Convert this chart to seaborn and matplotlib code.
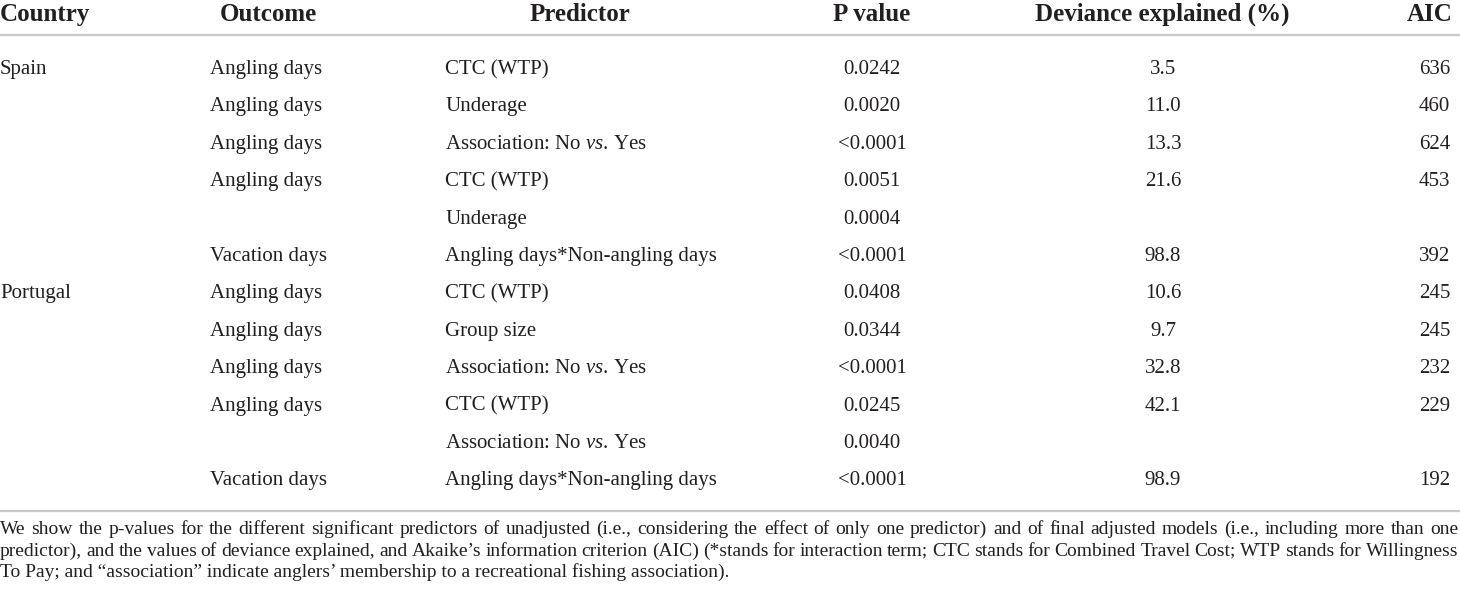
import numpy as np
import pandas as pd
import matplotlib
matplotlib.use("Agg")
import matplotlib.pyplot as plt
import seaborn as sns

# table data
countries = ["Spain", "", "", "", "", "", "Portugal", "", "", "", "", ""]
outcomes = ["Angling days", "Angling days", "Angling days", "Angling days", "", "Vacation days",
            "Angling days", "Angling days", "Angling days", "Angling days", "", "Vacation days"]
predictors = ["CTC (WTP)", "Underage", "Association: No $\\mathit{vs}$. Yes", "CTC (WTP)", "Underage",
              "Angling days*Non-angling days", "CTC (WTP)", "Group size",
              "Association: No $\\mathit{vs}$. Yes", "CTC (WTP)",
              "Association: No $\\mathit{vs}$. Yes", "Angling days*Non-angling days"]
p_values = ["0.0242", "0.0020", "<0.0001", "0.0051", "0.0004", "<0.0001",
            "0.0408", "0.0344", "<0.0001", "0.0245", "0.0040", "<0.0001"]
deviance = ["3.5", "11.0", "13.3", "21.6", "", "98.8", "10.6", "9.7", "32.8", "42.1", "", "98.9"]
aic = ["636", "460", "624", "453", "", "392", "245", "245", "232", "229", "", "192"]

headers = ["Country", "Outcome", "Predictor", "P value", "Deviance explained (%)", "AIC"]

footnote = [
    "We show the p-values for the different significant predictors of unadjusted (i.e., considering the effect of only one predictor) and of final adjusted models (i.e., including more than one",
    "predictor), and the values of deviance explained, and Akaike\u2019s information criterion (AIC) (*stands for interaction term; CTC stands for Combined Travel Cost; WTP stands for Willingness",
    "To Pay; and \u201cassociation\u201d indicate anglers\u2019 membership to a recreational fishing association).",
]

df = pd.DataFrame({"Country": countries, "Outcome": outcomes, "Predictor": predictors,
                   "P value": p_values, "Deviance explained (%)": deviance, "AIC": aic})

sns.set_theme(style="white")
plt.rcParams["font.family"] = ["Liberation Serif", "DejaVu Serif"]
plt.rcParams["mathtext.fontset"] = "custom"
plt.rcParams["mathtext.rm"] = "Liberation Serif"
plt.rcParams["mathtext.it"] = "Liberation Serif:italic"

ink = "#231f20"
rule = "#c8c8c8"

# column layout: header x/align, value x/align (pixels)
layout = {
    "Country": (0, "left", 0, "left"),
    "Outcome": (268, "center", 210, "left"),
    "Predictor": (580, "center", 445, "left"),
    "P value": (872, "center", 872, "center"),
    "Deviance explained (%)": (1162, "center", 1163, "center"),
    "AIC": (1453, "right", 1450, "right"),
}

fig = plt.figure(figsize=(14.6, 5.97), dpi=100)
ax = fig.add_axes([0, 0, 1, 1])
ax.set_xlim(0, 1460)
ax.set_ylim(597, 0)
ax.axis("off")

header_base = 21
row_base = 74
row_step = 37.4

for col in headers:
    hx, hha, vx, vha = layout[col]
    ax.text(hx, header_base, col, ha=hha, va="baseline", fontsize=18,
            fontweight="bold", color=ink)
    for i, val in enumerate(df[col]):
        if val:
            ax.text(vx, row_base + i * row_step, val, ha=vha,
                    va="baseline", fontsize=15, color=ink)

ax.plot([0, 1460], [35, 35], color=rule, lw=1.6, solid_capstyle="butt")
ax.plot([0, 1460], [511, 511], color=rule, lw=1.6, solid_capstyle="butt")

# footnote, first two lines justified
renderer = fig.canvas.get_renderer()
foot_base = [534, 555.5, 577]
foot_size = 14.0
for k, line in enumerate(footnote):
    if k == len(footnote) - 1:
        ax.text(0, foot_base[k], line, ha="left", va="baseline", fontsize=foot_size, color=ink)
        continue
    words = line.split(" ")
    arts = [ax.text(0, foot_base[k], w, ha="left", va="baseline", fontsize=foot_size, color=ink)
            for w in words]
    widths = [a.get_window_extent(renderer).width for a in arts]
    gap = max((1458 - sum(widths)) / (len(words) - 1), 2.0)
    x = 0
    for a, w in zip(arts, widths):
        a.set_x(x)
        x += w + gap

fig.savefig("out.png", dpi=100)
